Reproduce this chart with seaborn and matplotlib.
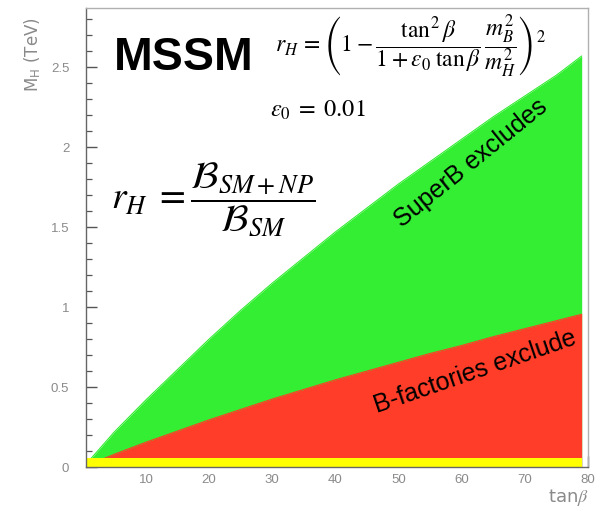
import numpy as np
import pandas as pd
import matplotlib
matplotlib.use("Agg")
import matplotlib.pyplot as plt
import seaborn as sns
from matplotlib.ticker import MultipleLocator

# ---- data ----
tanb = [1, 5, 10, 15, 20, 25, 30, 35, 40, 45, 50, 55, 60, 65, 70, 75, 79]
superb_mh = [0.04, 0.22, 0.42, 0.61, 0.80, 0.98, 1.15, 1.31, 1.47, 1.62,
             1.77, 1.91, 2.05, 2.19, 2.32, 2.45, 2.57]
bfact_mh = [0.015, 0.08, 0.155, 0.225, 0.295, 0.36, 0.425, 0.485, 0.545, 0.60,
            0.655, 0.71, 0.76, 0.815, 0.865, 0.915, 0.955]
band_tanb = [0.5, 79]
band_mh = [0.055, 0.055]
xticks = [10, 20, 30, 40, 50, 60, 70, 80]
yticks = [0, 0.5, 1, 1.5, 2, 2.5]

df = pd.DataFrame({"tanb": tanb, "superb": superb_mh, "bfact": bfact_mh})

sns.set_theme(style="white")
plt.rcParams["font.family"] = ["Liberation Sans", "DejaVu Sans"]
plt.rcParams["mathtext.fontset"] = "stix"

W, H = 596, 508
fig = plt.figure(figsize=(W / 100, H / 100), dpi=100)
ax = fig.add_axes([86 / W, (H - 467) / H, (588 - 86) / W, (467 - 8) / H])

GREEN = "#33ee33"
RED = "#ff3d28"
YELLOW = "#ffff00"

ax.fill_between(df["tanb"], 0, df["superb"], color=GREEN, lw=0, zorder=1)
ax.fill_between(df["tanb"], 0, df["bfact"], color=RED, lw=0, zorder=2)
sns.lineplot(data=df, x="tanb", y="superb", color=GREEN, lw=0.8, ax=ax, zorder=1.5)
sns.lineplot(data=df, x="tanb", y="bfact", color=RED, lw=0.8, ax=ax, zorder=2.5)
ax.fill_between(band_tanb, 0, band_mh, color=YELLOW, lw=0, zorder=3)

ax.set_xlim(0.5, 80)
ax.set_ylim(0, 2.87)
ax.set_xlabel("")
ax.set_ylabel("")

ax.set_xticks(xticks)
ax.set_xticklabels([str(v) for v in xticks])
ax.set_yticks(yticks)
ax.set_yticklabels(["0", "0.5", "1", "1.5", "2", "2.5"])
ax.yaxis.set_minor_locator(MultipleLocator(0.1))
ax.xaxis.set_minor_locator(MultipleLocator(2))

ax.tick_params(axis="y", which="major", direction="in", length=8, width=1.0,
               color="#555555", pad=12, labelsize=9.5, labelcolor="#8a8a8a",
               left=True)
ax.tick_params(axis="y", which="minor", direction="in", length=4, width=0.9,
               color="#555555", left=True)
ax.tick_params(axis="x", which="major", direction="in", length=8, width=1.0,
               color="#555555", pad=5, labelsize=9.5, labelcolor="#8a8a8a",
               bottom=True)
ax.tick_params(axis="x", which="minor", direction="in", length=4,
               color="#555555", bottom=True)

for side in ["top", "right"]:
    ax.spines[side].set_color("#b0b0b0")
    ax.spines[side].set_linewidth(1.0)
for side in ["left", "bottom"]:
    ax.spines[side].set_color("#666666")
    ax.spines[side].set_linewidth(1.0)
for s in ax.spines.values():
    s.set_zorder(5)

def fx(px):
    return px / W

def fy(py):
    return 1 - py / H

# axis labels
fig.text(fx(33), fy(55), r"M$_{\mathregular{H}}$ (TeV)", rotation=90,
         ha="center", va="center", fontsize=12, color="#8a8a8a",
         family="DejaVu Sans")
fig.text(fx(568), fy(497), r"tan$\mathit{\beta}$", ha="center", va="center",
         fontsize=13, color="#8a8a8a", family="DejaVu Sans")

# annotations
fig.text(fx(114), fy(70), "MSSM", ha="left", va="baseline", fontsize=33.5,
         fontweight="bold", color="black")
fig.text(fx(410), fy(47),
         r"$r_H\,=\left(1-\dfrac{\tan^2\beta}{1+\varepsilon_0\;\tan\beta}\,\dfrac{m_B^2}{m_H^2}\right)^2$",
         ha="center", va="center", fontsize=17, color="black")
fig.text(fx(270), fy(117), r"$\varepsilon_0\;=\;0.01$", ha="left", va="baseline",
         fontsize=17.5, color="black")
fig.text(fx(111), fy(199),
         r"$r_H\;=\dfrac{\mathcal{B}_{SM+NP}}{\mathcal{B}_{SM}}$",
         ha="left", va="center", fontsize=27, color="black")

fig.text(fx(471), fy(163), "SuperB excludes", rotation=39, ha="center",
         va="center", fontsize=18, color="black")
fig.text(fx(475), fy(372), "B-factories exclude", rotation=19, ha="center",
         va="center", fontsize=18, color="black")

fig.savefig("out.png", dpi=100)
